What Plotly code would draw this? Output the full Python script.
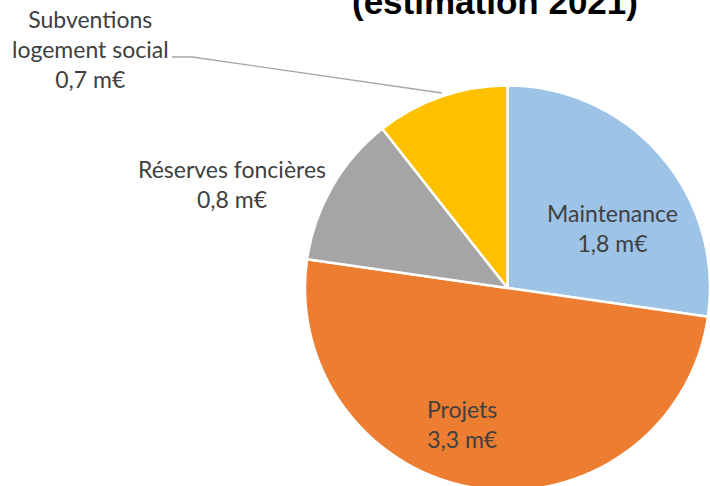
import plotly.graph_objects as go

# budget split (m€), estimation 2021
categories = ["Maintenance", "Projets", "Réserves foncières", "Subventions<br>logement social"]
values = [1.8, 3.3, 0.8, 0.7]
colors = ["#9DC3E6", "#ED7D31", "#A5A5A5", "#FFC000"]

# figure slightly taller than the window so the pie runs off the bottom edge
W, H = 710, 496

def px(x, y):
    # pixel (from top-left) -> paper coords
    return x / W, 1 - y / H

fig = go.Figure()
fig.add_trace(go.Pie(
    labels=categories, values=values, sort=False, direction="clockwise", rotation=0,
    marker=dict(colors=colors, line=dict(color="white", width=2.5)),
    textinfo="none", hoverinfo="label+value", showlegend=False,
    domain=dict(x=[305 / W, 1.0], y=[5 / H, 411 / H]),
))

# label positions (pixels) for each slice
label_pos = [(612, 228), (462, 424), (232, 184), (90, 49)]
annotations = []
for cat, v, (lx, ly) in zip(categories, values, label_pos):
    x, y = px(lx, ly)
    annotations.append(dict(
        x=x, y=y, xref="paper", yref="paper", showarrow=False,
        text=f"{cat}<br>{str(v).replace('.', ',')} m€", align="center",
        font=dict(family="Lato", size=23, color="#404040"),
        xanchor="center", yanchor="middle",
    ))

tx, ty = px(495, 1)
annotations.append(dict(
    x=tx, y=ty, xref="paper", yref="paper", showarrow=False,
    text="<b>(estimation 2021)</b>",
    font=dict(family="Liberation Sans", size=35, color="black"),
    xanchor="center", yanchor="middle",
))

# leader line for the small slice
p0, p1, p2 = px(172, 57), px(192, 57), px(442, 93)
fig.add_shape(type="path", xref="paper", yref="paper",
              path=f"M {p0[0]},{p0[1]} L {p1[0]},{p1[1]} L {p2[0]},{p2[1]}",
              line=dict(color="#A6A6A6", width=1.3))

fig.update_layout(
    width=W, height=H, margin=dict(l=0, r=0, t=0, b=0),
    paper_bgcolor="white", plot_bgcolor="white",
    annotations=annotations,
)

# drop the default page margin so the figure sits at the window's corner
fig.write_html("out.html", config={"displayModeBar": False},
               post_script="document.body.style.margin='0';document.body.style.overflow='hidden';")
